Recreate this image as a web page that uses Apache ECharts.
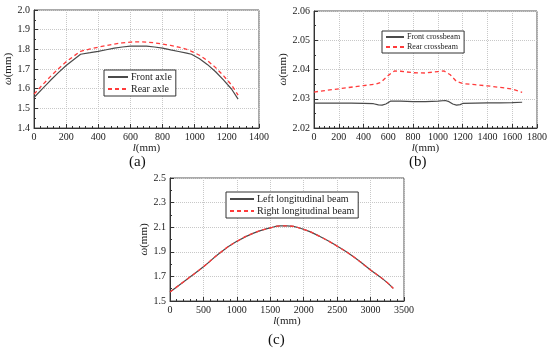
<!DOCTYPE html>
<html><head><meta charset="utf-8">
<script src="https://cdn.jsdelivr.net/npm/echarts@6/dist/echarts.min.js"></script>
<style>html,body{margin:0;padding:0;background:#fff}#c{width:550px;height:351px}</style>
</head><body><div id="c"></div>
<script>
// Panel (a)
var axleX = [0,50,100,150,200,250,290,350,400,450,500,550,600,650,700,750,800,850,900,950,980,1030,1080,1130,1180,1230,1270];
var frontAxle = [1.555,1.598,1.640,1.680,1.718,1.750,1.775,1.783,1.790,1.798,1.806,1.812,1.816,1.817,1.816,1.812,1.806,1.797,1.789,1.781,1.775,1.752,1.722,1.686,1.643,1.597,1.547];
var rearAxle = [1.572,1.617,1.660,1.700,1.737,1.767,1.790,1.802,1.811,1.819,1.827,1.833,1.837,1.838,1.837,1.833,1.827,1.820,1.811,1.800,1.790,1.770,1.742,1.707,1.665,1.618,1.567];
// Panel (b)
var frontBeamX = [0,100,200,300,400,480,520,550,580,620,700,800,900,1000,1060,1090,1120,1150,1180,1200,1300,1400,1500,1600,1680];
var frontBeam = [2.0285,2.0285,2.0285,2.0285,2.0284,2.0283,2.0279,2.0278,2.0282,2.0292,2.0292,2.0290,2.0290,2.0292,2.0294,2.0290,2.0282,2.0278,2.0280,2.0284,2.0285,2.0286,2.0286,2.0287,2.0288];
var rearBeamX = [0,200,400,500,540,600,650,700,800,900,1000,1050,1100,1150,1200,1300,1400,1500,1600,1680];
var rearBeam = [2.0323,2.0334,2.0345,2.0350,2.0356,2.0380,2.0395,2.0394,2.0389,2.0388,2.0393,2.0395,2.0382,2.0359,2.0352,2.0348,2.0344,2.0339,2.0333,2.0322];
// Panel (c)
var longX = [0,250,500,750,1000,1250,1500,1650,1750,2000,2250,2500,2750,3000,3200,3340];
var leftLong = [1.573,1.675,1.778,1.893,1.985,2.052,2.094,2.110,2.110,2.082,2.022,1.946,1.858,1.752,1.672,1.603];
var rightLong = [1.573,1.675,1.778,1.893,1.985,2.052,2.094,2.110,2.110,2.082,2.022,1.946,1.858,1.752,1.672,1.603];

function pairs(xs, ys){ return xs.map(function(x,i){ return [x, ys[i]]; }); }

var FF = 'Liberation Serif';
var GRAY = '#4a4a4a', RED = '#ff3b3b';

function xAx(idx, max, interval){
  return {type:'value', gridIndex:idx, min:0, max:max, interval:interval,
    name:'{i|l}(mm)', nameLocation:'middle', nameGap:13,
    nameTextStyle:{fontFamily:FF, fontSize:11, color:'#222', rich:{i:{fontFamily:FF,fontSize:11,fontStyle:'italic',color:'#222'}}},
    axisLine:{show:true, lineStyle:{color:'#333', width:1}},
    axisTick:{show:true, inside:true, length:4, lineStyle:{color:'#333'}},
    minorTick:{show:true, splitNumber:5, length:2, lineStyle:{color:'#333'}},
    axisLabel:{fontFamily:FF, fontSize:10, color:'#222', margin:4, formatter:function(v){return String(v);}},
    splitLine:{show:true, lineStyle:{type:'dotted', color:'#c8c8c8'}}};
}
function yAx(idx, min, max, interval, dec, minorSplit, gap){
  return {type:'value', gridIndex:idx, min:min, max:max, interval:interval,
    name:'{i|ω}(mm)', nameLocation:'middle', nameGap:gap, nameRotate:90,
    nameTextStyle:{fontFamily:FF, fontSize:11, color:'#222', rich:{i:{fontFamily:FF,fontSize:11,fontStyle:'italic',color:'#222'}}},
    axisLine:{show:true, lineStyle:{color:'#333', width:1}},
    axisTick:{show:true, inside:true, length:4, lineStyle:{color:'#333'}},
    minorTick:{show:true, splitNumber:minorSplit, length:2, lineStyle:{color:'#333'}},
    axisLabel:{fontFamily:FF, fontSize:10, color:'#222', margin:4, formatter:function(v){return v.toFixed(dec);}},
    splitLine:{show:true, lineStyle:{type:'dotted', color:'#c8c8c8'}}};
}
function legend(names, left, top, fs, w){
  return {data:names, left:left, top:top, orient:'vertical', itemWidth:w, itemHeight:8, itemGap:2,
    padding:[2,4,2,3], borderColor:'#333', borderWidth:1, backgroundColor:'#fff',
    itemStyle:{opacity:0},
    textStyle:{fontFamily:FF, fontSize:fs, color:'#222', padding:[0,0,0,-2]}};
}
function ln(name, data, xi, yi, color, dashed, smooth){
  return {name:name, type:'line', xAxisIndex:xi, yAxisIndex:yi, data:data, symbol:'none', smooth:smooth,
    lineStyle:{color:color, width:dashed?1.3:1.2, type:dashed?[4,3]:'solid'}, itemStyle:{color:color}, animation:false};
}

var chart = echarts.init(document.getElementById('c'), null, {renderer:'canvas'});
chart.setOption({
  animation:false,
  grid:[
    {left:34, top:10, width:225, height:118, show:true, borderColor:'#555', borderWidth:1},
    {left:314, top:11, width:223, height:117, show:true, borderColor:'#555', borderWidth:1},
    {left:170, top:178, width:234, height:123, show:true, borderColor:'#555', borderWidth:1}
  ],
  xAxis:[xAx(0,1400,200), xAx(1,1800,200), xAx(2,3500,500)],
  yAxis:[yAx(0,1.4,2.0,0.1,1,2,20), yAx(1,2.02,2.06,0.01,2,2,24), yAx(2,1.5,2.5,0.2,1,2,20)],
  legend:[
    legend(['Front axle','Rear axle'], 104, 70, 10, 20),
    legend(['Front crossbeam','Rear crossbeam'], 382, 31, 8, 18),
    legend(['Left longitudinal beam','Right longitudinal beam'], 226, 192, 10, 24)
  ],
  series:[
    ln('Front axle', pairs(axleX, frontAxle), 0, 0, GRAY, false, false),
    ln('Rear axle', pairs(axleX, rearAxle), 0, 0, RED, true, false),
    ln('Front crossbeam', pairs(frontBeamX, frontBeam), 1, 1, GRAY, false, false),
    ln('Rear crossbeam', pairs(rearBeamX, rearBeam), 1, 1, RED, true, false),
    ln('Left longitudinal beam', pairs(longX, leftLong), 2, 2, GRAY, false, true),
    ln('Right longitudinal beam', pairs(longX, rightLong), 2, 2, RED, true, true)
  ],
  graphic:[
    {type:'text', left:129, top:155, style:{text:'(a)', fontFamily:FF, fontSize:15, fill:'#111'}},
    {type:'text', left:409, top:155, style:{text:'(b)', fontFamily:FF, fontSize:15, fill:'#111'}},
    {type:'text', left:268, top:333, style:{text:'(c)', fontFamily:FF, fontSize:15, fill:'#111'}}
  ]
});
</script></body></html>
